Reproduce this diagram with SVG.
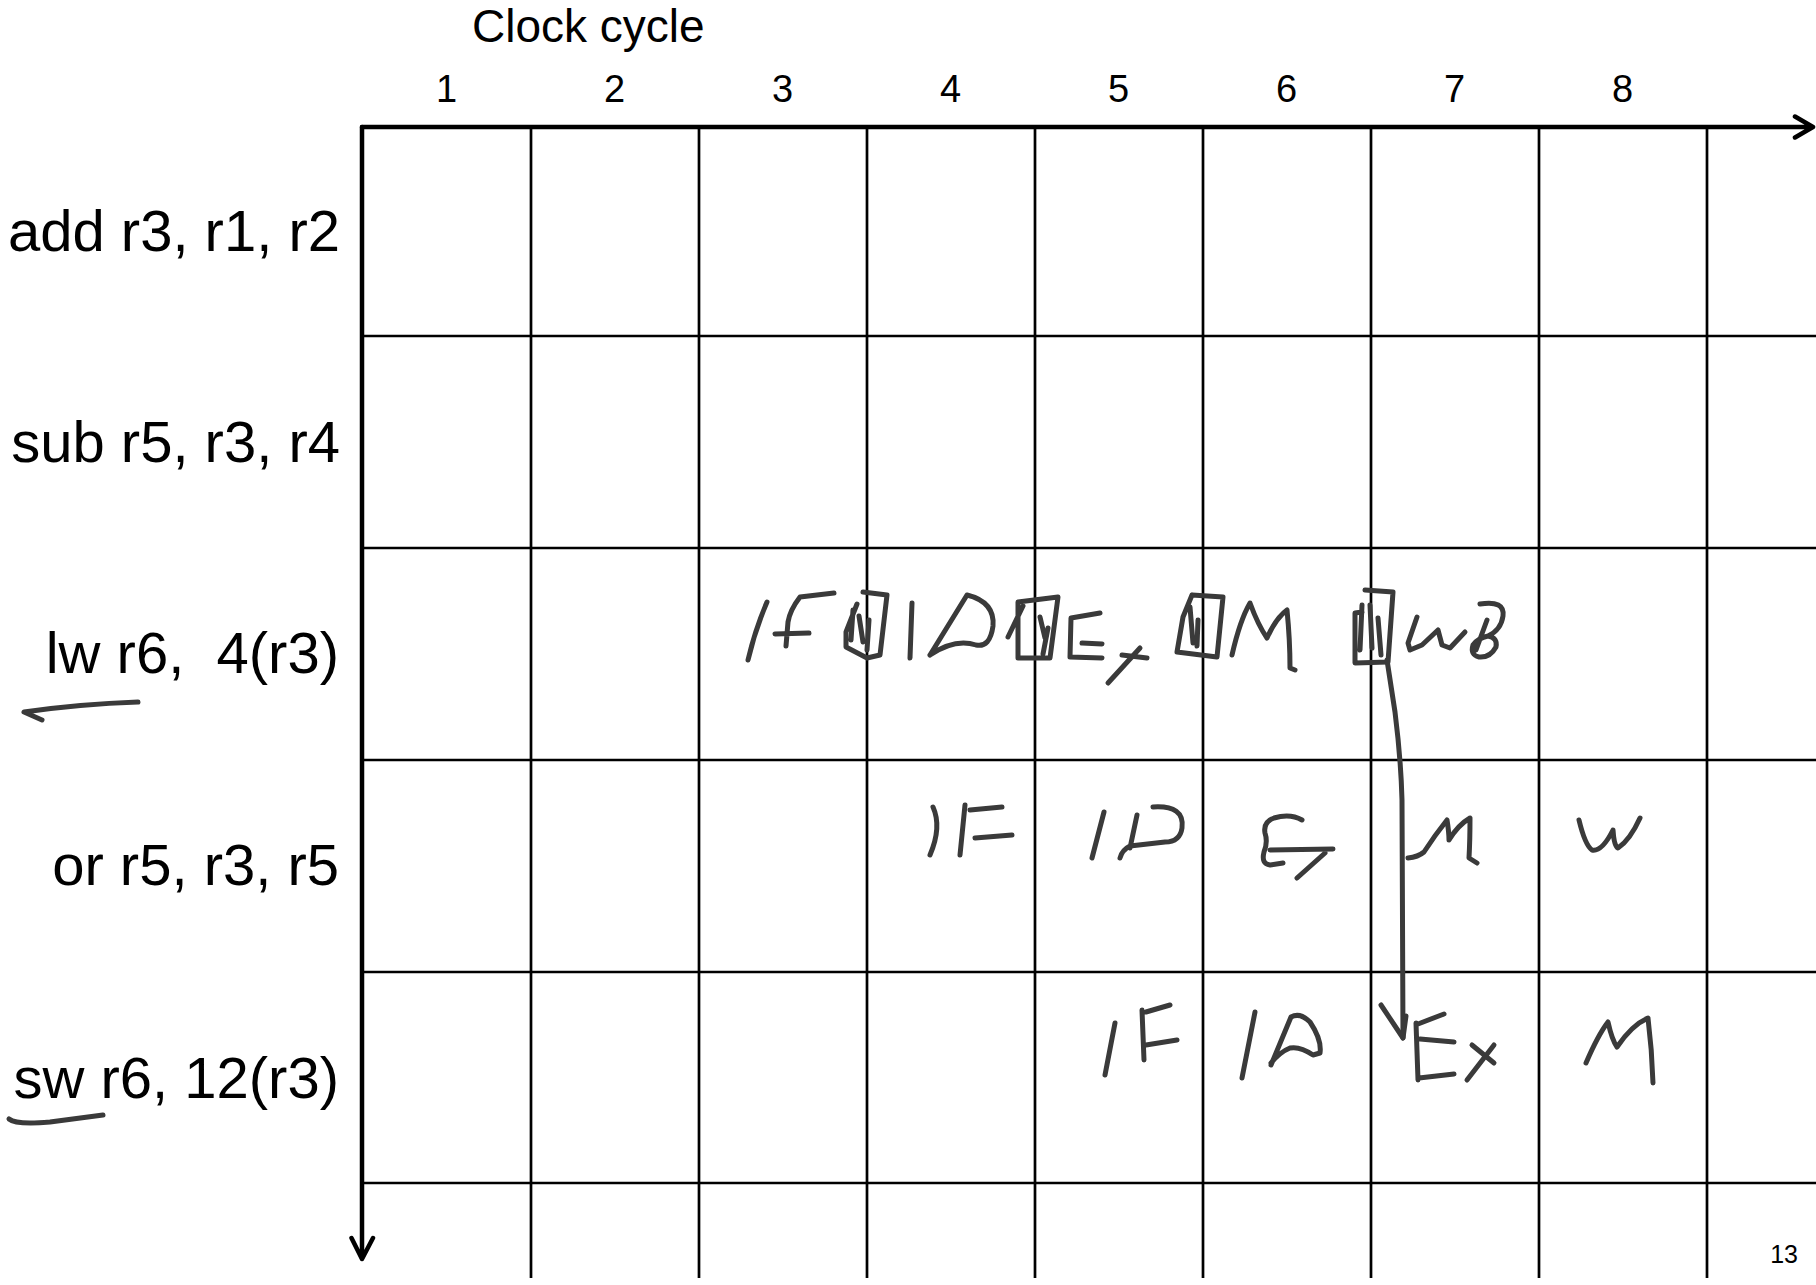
<svg xmlns="http://www.w3.org/2000/svg" width="1816" height="1285" viewBox="0 0 1816 1285">
<style>
.t{font-family:"Liberation Sans",Arial,sans-serif;fill:#000}
.lbl{font-size:58px;text-anchor:end}
.num{font-size:38px;text-anchor:middle}
.grid{stroke:#000;stroke-width:2.7;fill:none}
.axis{stroke:#000;stroke-width:4.5;fill:none;stroke-linecap:round;stroke-linejoin:round}
.hw{stroke:#3a3a3a;stroke-width:5;fill:none;stroke-linecap:round;stroke-linejoin:round}
</style>
<rect width="1816" height="1285" fill="#fff"/>
<g id="grid">
<path class="grid" d="M531,127V1278M699,127V1278M867,127V1278M1035,127V1278M1203,127V1278M1371,127V1278M1539,127V1278M1707,127V1278"/>
<path class="grid" d="M362,336H1816M362,548H1816M362,760H1816M362,972H1816M362,1183H1816"/>
</g>
<g id="axes">
<path class="axis" d="M362,127H1813M1795,116.5L1813,127L1795,137.5"/>
<path class="axis" d="M362,127V1259M351.5,1238L362,1259L373,1238"/>
</g>
<g id="header">
<text class="t" x="472" y="42" font-size="46">Clock cycle</text>
<text class="t num" x="446.5" y="101.5">1</text>
<text class="t num" x="614.5" y="101.5">2</text>
<text class="t num" x="782.5" y="101.5">3</text>
<text class="t num" x="950.5" y="101.5">4</text>
<text class="t num" x="1118.5" y="101.5">5</text>
<text class="t num" x="1286.5" y="101.5">6</text>
<text class="t num" x="1454.5" y="101.5">7</text>
<text class="t num" x="1622.5" y="101.5">8</text>
</g>
<g id="instr-add"><text class="t lbl" x="340" y="251">add r3, r1, r2</text></g>
<g id="instr-sub"><text class="t lbl" x="340" y="462">sub r5, r3, r4</text></g>
<g id="instr-lw"><text class="t lbl" x="339" y="673" xml:space="preserve">lw r6,  4(r3)</text>
<path class="hw" stroke-width="5.5" d="M42,720L24,712Q80,704 138,702"/></g>
<g id="instr-or"><text class="t lbl" x="339" y="885">or r5, r3, r5</text></g>
<g id="instr-sw"><text class="t lbl" x="339" y="1098">sw r6, 12(r3)</text>
<path class="hw" stroke-width="5.5" d="M9,1119Q16,1125 50,1122L103,1115"/></g>
<g id="stages-lw" class="hw">
<path d="M767,602Q755,630 748,660"/>
<path d="M834,593L800,597Q790,610 788,622L786,646M775,634L809,633"/>
<path d="M863,592L887,595L880,655L867,658L846,647L846,632L857,604M853,610L851,640M859,616L863,642M869,620L867,650"/>
<path d="M912,603L910,658"/>
<path d="M930,655L967,595Q995,602 993,626Q990,648 976,645Q955,638 930,655"/>
<path d="M1018,602L1058,597L1050,658L1018,658ZM1008,637L1023,606M1040,617L1045,638M1048,628L1043,654"/>
<path d="M1100,613L1071,618L1070,657L1102,658M1082,643L1102,644"/>
<path d="M1108,683L1140,648M1122,655L1147,658"/>
<path d="M1192,595L1223,597L1217,657L1177,652L1183,617L1192,595M1190,607L1193,643M1198,620L1197,646"/>
<path d="M1232,655Q1240,620 1250,603Q1258,625 1267,638Q1276,618 1287,610Q1290,640 1290,668L1295,670"/>
<path d="M1365,590L1393,592L1388,662L1355,663L1355,613L1362,612M1362,605L1360,650M1370,605L1372,648M1378,618L1381,655"/>
<path d="M1417,617L1408,643L1410,650L1422,645L1438,630L1442,645L1450,648L1465,632"/>
<path d="M1480,604Q1505,600 1503,616Q1501,630 1488,636Q1498,638 1496,647Q1490,658 1479,657Q1470,655 1473,645Q1478,638 1488,636M1487,620L1476,650"/>
</g>
<g id="stages-or" class="hw">
<path d="M933,807Q942,827 930,855"/>
<path d="M965,805L960,855M970,810L1002,807M975,838L1012,835"/>
<path d="M1104,812L1092,858"/>
<path d="M1137,815L1130,848M1153,807Q1185,805 1182,828Q1180,842 1165,842L1130,846Q1122,850 1120,858"/>
<path d="M1302,820Q1290,813 1274,818Q1263,822 1265,833Q1268,842 1264,852Q1261,864 1270,865L1283,863M1270,850L1333,849M1297,878L1325,853"/>
<path d="M1408,858Q1418,857 1424,852Q1435,835 1447,820Q1449,832 1449,840Q1458,825 1470,818Q1470,840 1469,858L1477,863"/>
<path d="M1579,820Q1585,845 1592,850Q1602,852 1613,830Q1614,846 1618,848Q1630,840 1640,818"/>
</g>
<g id="stages-sw" class="hw">
<path d="M1115,1023L1105,1075"/>
<path d="M1142,1010L1144,1060M1146,1012L1170,1005M1146,1045L1177,1040"/>
<path d="M1255,1012L1242,1078"/>
<path d="M1271,1065L1291,1017Q1300,1012 1310,1022Q1322,1040 1320,1053L1313,1055Q1300,1046 1290,1048Q1280,1052 1271,1063"/>
<path d="M1416,1023L1418,1080M1418,1024L1444,1014M1420,1039L1454,1042M1419,1078L1454,1074"/>
<path d="M1467,1080L1494,1045M1472,1045L1494,1063"/>
<path d="M1586,1063Q1598,1035 1608,1022Q1612,1040 1617,1047Q1632,1025 1648,1018Q1652,1050 1653,1083"/>
</g>
<g id="connectors" class="hw">
<path d="M1387,660L1395,712Q1401,760 1402,800L1403,1038"/>
<path d="M1381,1005L1403,1038L1406,1016"/>
</g>
<g id="page"><text class="t" x="1798" y="1263" font-size="25" text-anchor="end">13</text></g>
</svg>
